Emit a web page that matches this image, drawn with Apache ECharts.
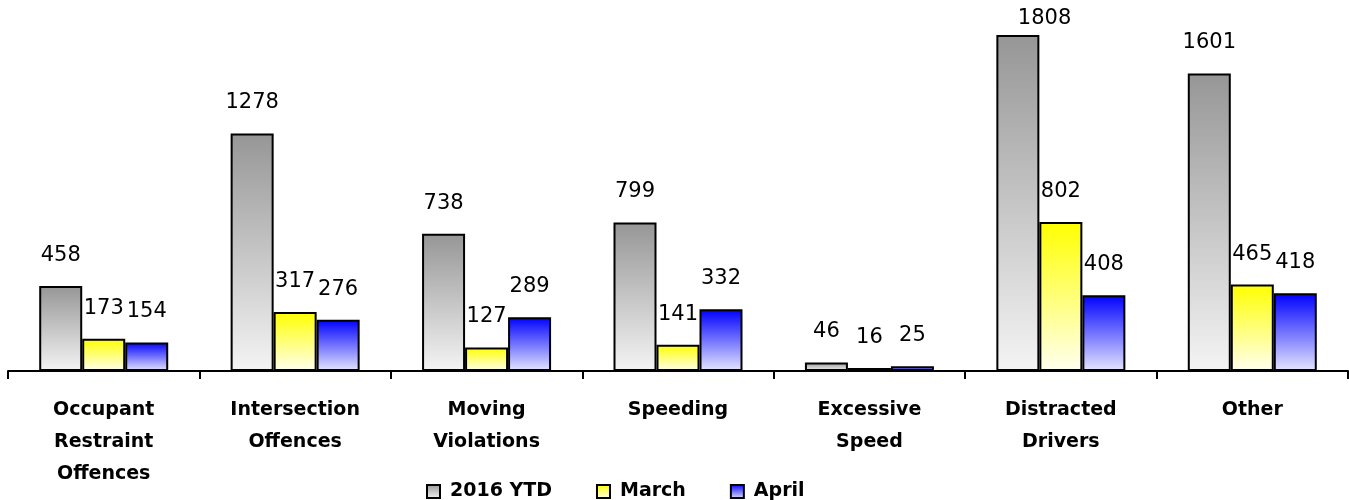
<!DOCTYPE html>
<html>
<head>
<meta charset="utf-8">
<script src="https://cdn.jsdelivr.net/npm/echarts@6/dist/echarts.min.js"></script>
<style>
html,body{margin:0;padding:0;background:#fff;}
#chart{width:1349px;height:500px;}
</style>
</head>
<body>
<div id="chart"></div>
<script>
var categories = ["Occupant\nRestraint\nOffences", "Intersection\nOffences", "Moving\nViolations", "Speeding", "Excessive\nSpeed", "Distracted\nDrivers", "Other"];
var seriesNames = ["2016 YTD", "March", "April"];
var ytdValues = [458, 1278, 738, 799, 46, 1808, 1601];
var marchValues = [173, 317, 127, 141, 16, 802, 465];
var aprilValues = [154, 276, 289, 332, 25, 408, 418];

function grad(top, bottom) {
  return new echarts.graphic.LinearGradient(0, 0, 0, 1, [
    {offset: 0, color: top},
    {offset: 1, color: bottom}
  ]);
}

var gradients = [
  grad('#969696', '#f4f4f4'),
  grad('#ffff00', '#fffff0'),
  grad('#0000ff', '#e6e6ff')
];
var seriesData = [ytdValues, marchValues, aprilValues];

var chart = echarts.init(document.getElementById('chart'), null, {renderer: 'canvas'});
var option = {
  animation: false,
  backgroundColor: '#ffffff',
  grid: {left: 8, right: 1, top: 35, bottom: 129, containLabel: false},
  legend: {
    left: 421,
    top: 477,
    itemWidth: 13,
    itemHeight: 13,
    itemGap: 44,
    icon: 'rect',
    textStyle: {fontFamily: 'DejaVu Sans', fontWeight: 'bold', fontSize: 19, color: '#000', padding: [0, 0, 0, 5]},
    data: seriesNames
  },
  xAxis: {
    type: 'category',
    data: categories,
    axisLine: {lineStyle: {color: '#000', width: 2}},
    axisTick: {show: true, alignWithLabel: false, length: 8, lineStyle: {color: '#000', width: 2}},
    axisLabel: {
      interval: 0,
      margin: 23,
      fontFamily: 'DejaVu Sans',
      fontWeight: 'bold',
      fontSize: 19,
      lineHeight: 32,
      color: '#000'
    }
  },
  yAxis: {
    type: 'value',
    min: 0,
    max: 'dataMax',
    show: false,
    splitLine: {show: false}
  },
  series: seriesNames.map(function (name, i) {
    return {
      name: name,
      type: 'bar',
      data: seriesData[i],
      barWidth: 43,
      barGap: '0%',
      itemStyle: {color: gradients[i], borderColor: '#000', borderWidth: 2},
      label: {
        show: true,
        position: 'top',
        distance: 20,
        fontFamily: 'DejaVu Sans',
        fontSize: 21,
        color: '#000'
      },
      labelLayout: function (p) {
        if (p.labelRect.y < 8) {
          return {y: 8 + p.labelRect.height / 2, verticalAlign: 'middle'};
        }
        return {};
      }
    };
  })
};
chart.setOption(option);
</script>
</body>
</html>
